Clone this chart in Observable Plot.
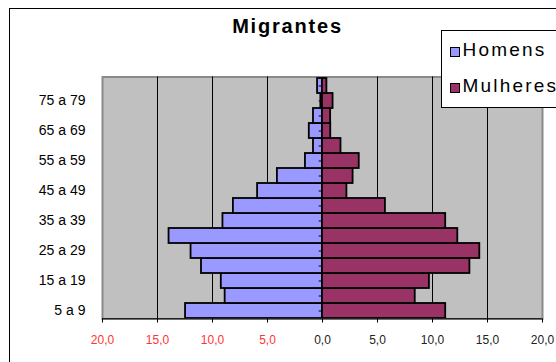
<!DOCTYPE html>
<html>
<head>
<meta charset="utf-8">
<script src="https://cdn.jsdelivr.net/npm/d3@7"></script>
<script src="https://cdn.jsdelivr.net/npm/@observablehq/plot@0.6"></script>
<style>
  body { margin: 0; background: #fff; font-family: "Liberation Sans", Arial, sans-serif; }
  #wrap { position: relative; width: 556px; height: 362px; overflow: hidden; background: #fff; }
  #frame { position: absolute; left: 8.5px; top: 7.8px; width: 700px; height: 500px; border: 1.6px solid #000; }
  #chart { position: absolute; left: 0; top: 0; }
  #title { position: absolute; left: 287.5px; top: 16.4px; transform: translateX(-50%); font-size: 20px; line-height: 20px; font-weight: bold; letter-spacing: 1.8px; white-space: nowrap; color: #000; }
  #legend { position: absolute; left: 441px; top: 30px; width: 200px; height: 76px; border: 1.2px solid #000; background: #fff; }
  .sw { position: absolute; left: 7.5px; width: 8px; height: 8px; border: 1.6px solid #000; }
  .lt { position: absolute; left: 20.5px; font-size: 19px; line-height: 19px; letter-spacing: 2.2px; white-space: nowrap; color: #000; }
</style>
</head>
<body>
<div id="wrap">
  <div id="frame"></div>
  <div id="chart"></div>
  <div id="title"></div>
  <div id="legend"></div>
</div>
<script>
const title = "Migrantes";
const ages = ["5 a 9","10 a 14","15 a 19","20 a 24","25 a 29","30 a 34","35 a 39","40 a 44","45 a 49","50 a 54","55 a 59","60 a 64","65 a 69","70 a 74","75 a 79","80 e mais"];
const ageLabels = ["5 a 9","15 a 19","25 a 29","35 a 39","45 a 49","55 a 59","65 a 69","75 a 79"];
const homens   = [12.45, 8.85, 9.2, 11.0, 11.95, 13.95, 9.05, 8.1, 5.9, 4.1, 1.55, 0.82, 1.2, 0.82, 0.15, 0.45];
const mulheres = [11.2, 8.43, 9.72, 13.4, 14.3, 12.3, 11.2, 5.72, 2.22, 2.78, 3.34, 1.68, 0.75, 0.74, 0.96, 0.4];
const seriesNames = ["Homens", "Mulheres"];
const seriesColors = ["#9999ff", "#993366"];
const xTicksNeg = [-20, -15, -10, -5];
const xTicksPos = [0, 5, 10, 15, 20];
const gridValues = [-15, -10, -5, 5, 10, 15];

const rows = ages.map((a, i) => ({age: a, homens: homens[i], mulheres: mulheres[i]}));
const fmt = d => d3.format(".1f")(Math.abs(d)).replace(".", ",");
const band = (318.5 - 76.5) / ages.length;

document.getElementById("title").textContent = title;
const leg = document.getElementById("legend");
seriesNames.forEach((n, i) => {
  const sw = document.createElement("div");
  sw.className = "sw";
  sw.style.top = (i === 0 ? 15.5 : 52) + "px";
  sw.style.background = seriesColors[i];
  leg.appendChild(sw);
  const t = document.createElement("div");
  t.className = "lt";
  t.style.top = (i === 0 ? 8.5 : 45) + "px";
  t.textContent = n;
  leg.appendChild(t);
});

const plot = Plot.plot({
  width: 556, height: 362,
  marginLeft: 102, marginRight: 14, marginTop: 76.5, marginBottom: 43.5,
  style: {background: "transparent", fontFamily: "'Liberation Sans', Arial, sans-serif"},
  x: {domain: [-20, 20], label: null},
  y: {domain: ages.slice().reverse(), padding: 0, label: null},
  marks: [
    Plot.frame({fill: "#c0c0c0", stroke: "#8a8a8a", strokeWidth: 2}),
    Plot.ruleX(gridValues, {stroke: "#000", strokeWidth: 1}),
    Plot.barX(rows, {y: "age", x1: 0, x2: d => -d.homens, fill: seriesColors[0], stroke: "#000", strokeWidth: 1.8}),
    Plot.barX(rows, {y: "age", x1: 0, x2: "mulheres", fill: seriesColors[1], stroke: "#000", strokeWidth: 1.8}),
    Plot.ruleY(ages, {y: d => d, x1: -0.3, x2: 0, stroke: "#000", strokeWidth: 1}),
    Plot.ruleY([ages[0]], {y: d => d, dy: band / 2, stroke: "#222", strokeWidth: 1.3}),
    Plot.axisX(xTicksNeg.concat(xTicksPos), {tickSize: 4, tickFormat: () => "", stroke: "#000", label: null}),
    Plot.axisX(xTicksNeg, {tickSize: 0, tickPadding: 16, tickFormat: fmt, fontSize: 12, fill: "#ff3333", label: null}),
    Plot.axisX(xTicksPos, {tickSize: 0, tickPadding: 16, tickFormat: fmt, fontSize: 12, fill: "#222", label: null}),
    Plot.axisY(ageLabels, {tickSize: 0, tickPadding: 17, fontSize: 14, fill: "#000", label: null})
  ]
});
document.getElementById("chart").appendChild(plot);
</script>
</body>
</html>
